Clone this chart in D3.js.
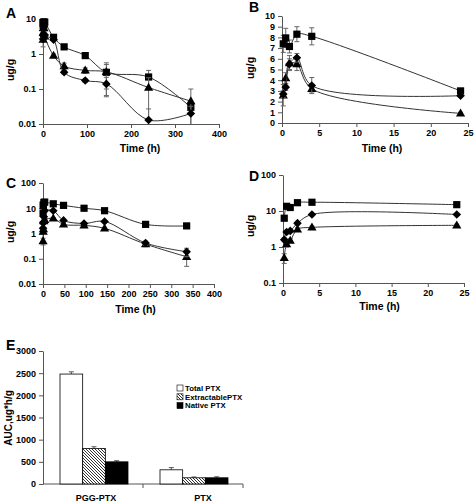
<!DOCTYPE html>
<html><head><meta charset="utf-8">
<script src="https://cdn.jsdelivr.net/npm/d3@7"></script>
<style>
body{margin:0;background:#fff}
svg text{font-family:"Liberation Sans",Arial,sans-serif;font-weight:bold;fill:#000}
</style>
</head><body>
<svg id="c" width="475" height="503"></svg>
<script>
// ---------- data ----------
const times = [0.17, 0.5, 1, 2, 4, 24, 48, 96, 144, 240, 336];
// Set shown in panels A (log) and B (linear, first 24 h)
const aSquare   = [7.4, 7.95, 7.15, 8.3, 8.1, 3.0, 1.6, 0.9, 0.3, 0.22, 0.03];
const aSquareErr= [0.8, 0.9, 0.6, 0.7, 0.8, 0.15, 0.1, 0.05, 0.2, 0.12, 0.01];
const aDiamond  = [2.7, 3.35, 5.5, 6.1, 3.5, 2.55, 0.3, 0.175, 0.14, 0.013, 0.02];
const aDiamondErr=[0.3, 0.3, 0.5, 0.4, 0.75, 0.1, 0.03, 0.02, 0.075, 0.014, 0.012];
const aTriangle = [2.6, 4.2, 5.6, 5.5, 3.2, 0.9, 0.45, 0.34, 0.31, 0.11, 0.045];
const aTriangleErr=[1.0, 0.5, 0.7, 0.6, 0.3, 0.1, 0.1, 0.06, 0.25, 0.1, 0.055];
// Set shown in panels C (log) and D (log, first 24 h)
const cSquare   = [6.3, 13.5, 12.5, 17, 17.5, 15, 13, 10, 8, 2.3, 2.0];
const cSquareErr= [0.8, 1.0, 1.0, 1.5, 1.5, 1.0, 1.0, 0.8, 0.6, 0.3, 0.2];
const cDiamond  = [1.6, 2.6, 2.8, 4.6, 8.0, 8.0, 3.3, 2.5, 3.0, 0.42, 0.19];
const cDiamondErr=[0.2, 0.3, 0.3, 0.5, 0.6, 0.5, 0.3, 0.2, 0.3, 0.08, 0.07];
const cTriangle = [0.5, 1.2, 1.5, 3.1, 3.5, 4.0, 2.3, 2.1, 1.6, 0.38, 0.12];
const cTriangleErr=[0.15, 0.2, 0.2, 0.3, 0.3, 0.3, 0.2, 0.2, 0.15, 0.08, 0.07];
// Tick labels
const xTicksLong = [0, 100, 200, 300, 400];
const xTicksLongC = [0, 50, 100, 150, 200, 250, 300, 350, 400];
const xTicksShort = [0, 5, 10, 15, 20, 25];
const yTicksA = [0.01, 0.1, 1, 10];
const yTicksB = [0,1,2,3,4,5,6,7,8,9,10];
const yTicksC = [0.01, 0.1, 1, 10, 100];
const yTicksD = [0.1, 1, 10, 100];
// Panel E
const categories = ["PGG-PTX", "PTX"];
const seriesNames = ["Total PTX", "ExtractablePTX", "Native PTX"];
const totalAUC = [2480, 320];
const totalAUCErr = [50, 50];
const extractableAUC = [800, 140];
const extractableAUCErr = [40, 18];
const nativeAUC = [500, 140];
const nativeAUCErr = [25, 22];
const yTicksE = [0, 500, 1000, 1500, 2000, 2500, 3000];

// ---------- drawing ----------
const svg = d3.select("#c");
const defs = svg.append("defs");
const pat = defs.append("pattern").attr("id","hatch").attr("patternUnits","userSpaceOnUse")
  .attr("width",3).attr("height",3);
pat.append("rect").attr("width",3).attr("height",3).attr("fill","#fff");
pat.append("path").attr("d","M-1,-1 L4,4 M-1,2 L1,4 M2,-1 L4,1").attr("stroke","#000").attr("stroke-width",0.8);

const axisColor = "#555";
function styleAxis(g, fs){
  g.select(".domain").attr("stroke", axisColor).attr("stroke-width",1);
  g.selectAll(".tick line").attr("stroke", axisColor);
  g.selectAll(".tick text").attr("font-size", fs).attr("fill","#000")
    .style("font-family","'Liberation Sans',Arial,sans-serif").style("font-weight","bold");
}
const logFmt = d => (d >= 1 ? d3.format("d")(d) : String(d));

function marker(g, type, cx, cy){
  if(type==="square"){
    g.append("rect").attr("x",cx-3.6).attr("y",cy-3.6).attr("width",7.2).attr("height",7.2).attr("fill","#000");
  } else if(type==="diamond"){
    const r=4.3;
    g.append("path").attr("d",`M${cx},${cy-r}L${cx+r},${cy}L${cx},${cy+r}L${cx-r},${cy}Z`).attr("fill","#000");
  } else {
    const w=4.6, h=8;
    g.append("path").attr("d",`M${cx},${cy-h*0.6}L${cx+w},${cy+h*0.4}L${cx-w},${cy+h*0.4}Z`).attr("fill","#000");
  }
}

function panel(p){
  const x = d3.scaleLinear().domain(p.xd).range(p.xr);
  const y = (p.log ? d3.scaleLog() : d3.scaleLinear()).domain(p.yd).range(p.yr);
  const g = svg.append("g");
  const gx = g.append("g").attr("transform",`translate(0,${p.yr[0]})`)
    .call(d3.axisBottom(x).tickValues(p.xt).tickSize(4).tickSizeOuter(0).tickPadding(3).tickFormat(d3.format("d")));
  styleAxis(gx, 9);
  const gy = g.append("g").attr("transform",`translate(${p.xr[0]},0)`)
    .call(d3.axisLeft(y).tickValues(p.yt).tickSize(4).tickSizeOuter(0).tickPadding(3).tickFormat(p.log?logFmt:d3.format("d")));
  styleAxis(gy, 9);
  g.append("text").attr("x",(p.xr[0]+p.xr[1])/2 + p.tdx).attr("y",p.ty).attr("text-anchor","middle")
    .attr("font-size",10.5).text("Time (h)");
  g.append("text").attr("transform",`translate(${p.ylx},${p.yly}) rotate(-90)`).attr("text-anchor","middle")
    .attr("font-size",10.5).text("ug/g");
  g.append("text").attr("x",p.lx).attr("y",p.ly).attr("font-size",14).text(p.letter);
  const line = d3.line().x(d=>x(d.t)).y(d=>y(d.v)).curve(d3.curveCatmullRom.alpha(0.5));
  p.series.forEach(s=>{
    const pts = times.map((t,i)=>({t, v:s.v[i], e:s.e[i]})).filter(d=>d.t<=p.xd[1]);
    g.append("path").attr("d",line(pts)).attr("fill","none").attr("stroke","#333").attr("stroke-width",1);
    const eg = g.append("g").attr("stroke","#666").attr("stroke-width",1);
    pts.forEach(d=>{
      const lo = Math.max(d.v-d.e, p.yd[0]);
      const hi = Math.min(d.v+d.e, p.yd[1]);
      const X = x(d.t);
      eg.append("line").attr("x1",X).attr("x2",X).attr("y1",y(lo)).attr("y2",y(hi));
      eg.append("line").attr("x1",X-2.5).attr("x2",X+2.5).attr("y1",y(hi)).attr("y2",y(hi));
      if (d.v-d.e > p.yd[0]) eg.append("line").attr("x1",X-2.5).attr("x2",X+2.5).attr("y1",y(lo)).attr("y2",y(lo));
    });
    const mg = g.append("g");
    pts.forEach(d=>marker(mg, s.type, x(d.t), y(d.v)));
  });
}

const setA = [
  {type:"square", v:aSquare, e:aSquareErr},
  {type:"triangle", v:aTriangle, e:aTriangleErr},
  {type:"diamond", v:aDiamond, e:aDiamondErr}
];
const setC = [
  {type:"square", v:cSquare, e:cSquareErr},
  {type:"triangle", v:cTriangle, e:cTriangleErr},
  {type:"diamond", v:cDiamond, e:cDiamondErr}
];

panel({letter:"A", lx:6, ly:18, xd:[0,400], xr:[43,219], yd:[0.01,10], yr:[124,19], log:true,
  xt:xTicksLong, yt:yTicksA, ty:152, tdx:9, ylx:14, yly:70, series:setA});
panel({letter:"B", lx:249, ly:12, xd:[0,25], xr:[282,468], yd:[0,10], yr:[123,16], log:false,
  xt:xTicksShort, yt:yTicksB, ty:152, tdx:7, ylx:254, yly:68, series:setA});
panel({letter:"C", lx:6, ly:188, xd:[0,400], xr:[43,214], yd:[0.01,100], yr:[284,183], log:true,
  xt:xTicksLongC, yt:yTicksC, ty:313, tdx:7, ylx:14, yly:232, series:setC});
panel({letter:"D", lx:249, ly:181, xd:[0,25], xr:[283,464], yd:[0.1,100], yr:[283,175], log:true,
  xt:xTicksShort, yt:yTicksD, ty:310, tdx:6, ylx:254, yly:226, series:setC});

// ---------- Panel E ----------
(function(){
  const g = svg.append("g");
  const x0 = d3.scaleBand().domain(categories).range([43,243]);
  const x1 = d3.scaleBand().domain(seriesNames).range([17,85]);
  const y = d3.scaleLinear().domain([0,3000]).range([484,351]);
  const gy = g.append("g").attr("transform","translate(43,0)")
    .call(d3.axisLeft(y).tickValues(yTicksE).tickSize(4).tickSizeOuter(0).tickPadding(3).tickFormat(d3.format("d")));
  styleAxis(gy, 9);
  const gx = g.append("g").attr("transform","translate(0,484)");
  gx.append("line").attr("x1",43).attr("x2",243).attr("stroke",axisColor);
  const labelShift = [3, 10];
  categories.forEach((c,i)=>{
    const b = x0(c)+x0.bandwidth();
    gx.append("line").attr("x1",b).attr("x2",b).attr("y1",0).attr("y2",4).attr("stroke",axisColor);
    gx.append("text").attr("x",x0(c)+x0.bandwidth()/2+labelShift[i]).attr("y",17).attr("text-anchor","middle")
      .attr("font-size",9).text(c);
  });
  const fills = {"Total PTX":"#fff","ExtractablePTX":"url(#hatch)","Native PTX":"#000"};
  const vals = {"Total PTX":[totalAUC,totalAUCErr],"ExtractablePTX":[extractableAUC,extractableAUCErr],"Native PTX":[nativeAUC,nativeAUCErr]};
  categories.forEach((c,i)=>{
    seriesNames.forEach(s=>{
      const v = vals[s][0][i], e = vals[s][1][i];
      const bx = x0(c)+x1(s), bw = x1.bandwidth();
      const cx = bx+bw/2;
      g.append("line").attr("x1",cx).attr("x2",cx).attr("y1",y(v)).attr("y2",y(v+e)).attr("stroke","#555");
      g.append("line").attr("x1",cx-2.5).attr("x2",cx+2.5).attr("y1",y(v+e)).attr("y2",y(v+e)).attr("stroke","#555");
      g.append("rect").attr("x",bx).attr("y",y(v)).attr("width",bw).attr("height",y(0)-y(v))
        .attr("fill",fills[s]).attr("stroke","#000").attr("stroke-width",0.8);
    });
  });
  g.append("text").attr("transform","translate(12,418) rotate(-90)").attr("text-anchor","middle")
    .attr("font-size",10).text("AUC,ug*h/g");
  g.append("text").attr("x",6).attr("y",350).attr("font-size",14).text("E");
  const lg = g.append("g");
  seriesNames.forEach((s,i)=>{
    const yy = 388 + i*8.8;
    lg.append("rect").attr("x",177).attr("y",yy-3).attr("width",6).attr("height",6)
      .attr("fill",fills[s]).attr("stroke","#000").attr("stroke-width",0.6);
    lg.append("text").attr("x",185).attr("y",yy+2.8).attr("font-size",7.8).text(s);
  });
})();
</script>
</body></html>
